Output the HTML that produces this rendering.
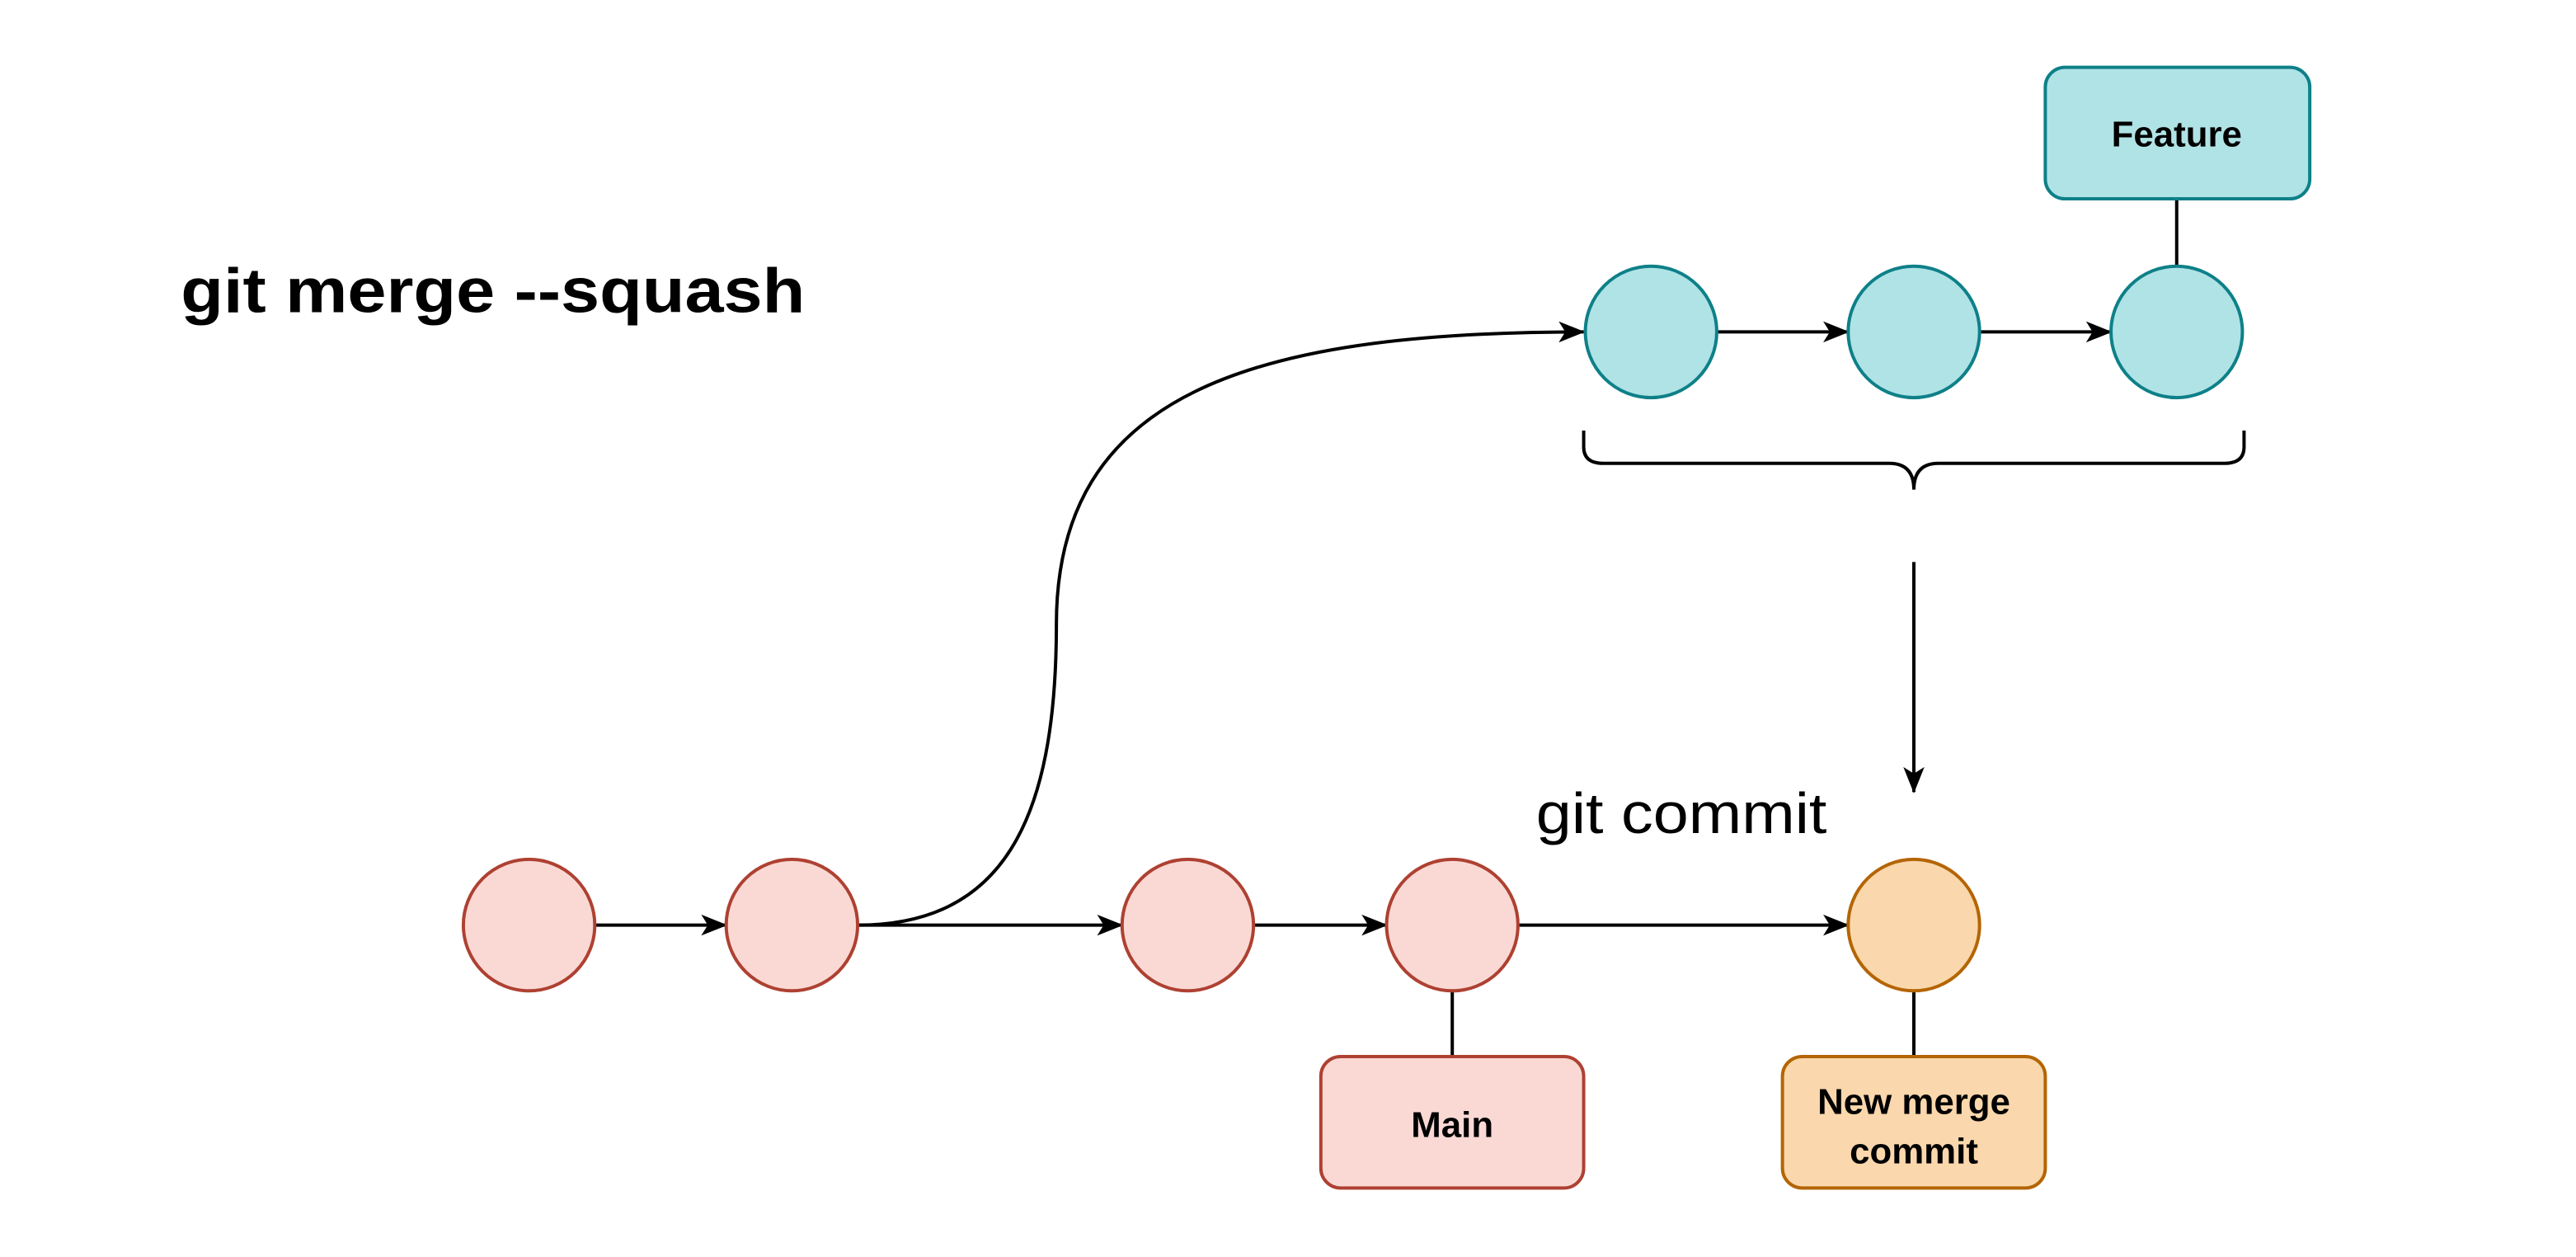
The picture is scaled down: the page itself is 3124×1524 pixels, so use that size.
<!DOCTYPE html>
<html><head><meta charset="utf-8"><style>
html,body{margin:0;padding:0;background:#fff;}
svg{display:block;}
text{font-family:"Comic Sans MS","Liberation Sans",sans-serif;}
</style></head><body>
<svg width="3124" height="1524" viewBox="0 0 1568 765" xmlns="http://www.w3.org/2000/svg">
<defs>
<marker id="a" viewBox="0 0 20 20" refX="19" refY="10" markerWidth="16" markerHeight="16" markerUnits="userSpaceOnUse" orient="auto">
<path d="M0,2 L20,10 L0,18 L5,10 Z" fill="#000"/>
</marker>
</defs>
<text x="110" y="190" font-size="38" font-weight="bold" fill="#000" textLength="380" lengthAdjust="spacingAndGlyphs">git merge --squash</text>
<text x="935" y="507" font-size="35" fill="#000" textLength="177" lengthAdjust="spacingAndGlyphs">git commit</text>

<g stroke="#000" stroke-width="2" fill="none">
<line x1="362" y1="563" x2="442" y2="563" marker-end="url(#a)"/>
<line x1="522" y1="563" x2="683" y2="563" marker-end="url(#a)"/>
<line x1="763" y1="563" x2="844" y2="563" marker-end="url(#a)"/>
<line x1="924" y1="563" x2="1125" y2="563" marker-end="url(#a)"/>
<line x1="1045" y1="202" x2="1125" y2="202" marker-end="url(#a)"/>
<line x1="1205" y1="202" x2="1285" y2="202" marker-end="url(#a)"/>
<path d="M522,563 C610,563 643,500 643,380 C643,240 760,202 964,202" marker-end="url(#a)"/>
<line x1="1165" y1="342" x2="1165" y2="482" marker-end="url(#a)"/>
<line x1="884" y1="603" x2="884" y2="643"/>
<line x1="1165" y1="603" x2="1165" y2="643"/>
<line x1="1325" y1="121" x2="1325" y2="162"/>
<path d="M964,262 V272 Q964,282 976,282 H1150 Q1165,282 1165,298 Q1165,282 1180,282 H1354 Q1366,282 1366,272 V262"/>
</g>

<g stroke="#ae4132" stroke-width="2" fill="#fad9d5">
<circle cx="322" cy="563" r="40"/>
<circle cx="482" cy="563" r="40"/>
<circle cx="723" cy="563" r="40"/>
<circle cx="884" cy="563" r="40"/>
<rect x="804" y="643" width="160" height="80" rx="12"/>
</g>
<g stroke="#0e8088" stroke-width="2" fill="#b0e3e6">
<circle cx="1005" cy="202" r="40"/>
<circle cx="1165" cy="202" r="40"/>
<circle cx="1325" cy="202" r="40"/>
<rect x="1245" y="41" width="161" height="80" rx="12"/>
</g>
<g stroke="#b46504" stroke-width="2" fill="#fad7ac">
<circle cx="1165" cy="563" r="40"/>
<rect x="1085" y="643" width="160" height="80" rx="12"/>
</g>

<g font-size="22" font-weight="bold" text-anchor="middle" fill="#000">
<text x="1325" y="89">Feature</text>
<text x="884" y="692">Main</text>
<text x="1165" y="678">New merge</text>
<text x="1165" y="708">commit</text>
</g>
</svg>
</body></html>
